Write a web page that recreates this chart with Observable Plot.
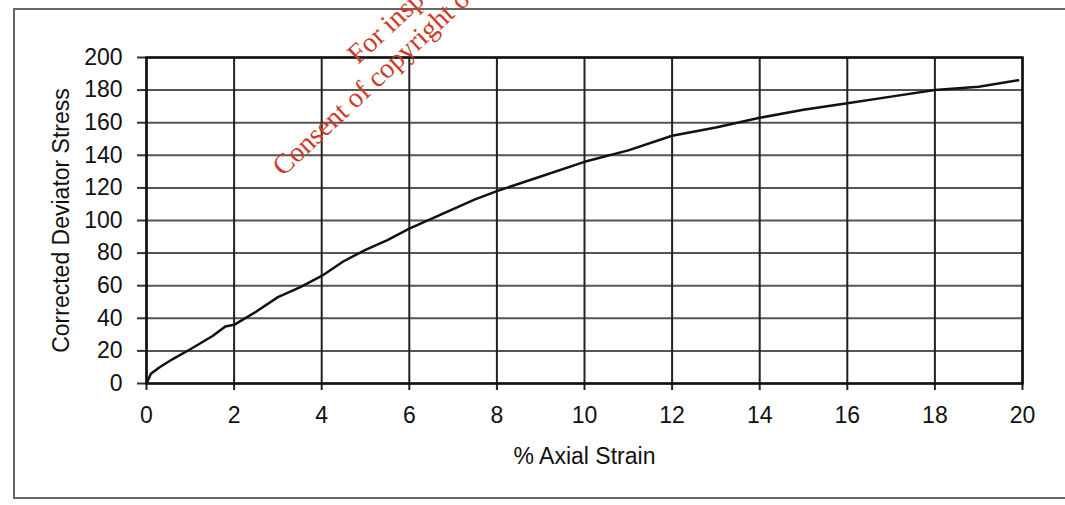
<!DOCTYPE html>
<html>
<head>
<meta charset="utf-8">
<script src="https://cdn.jsdelivr.net/npm/d3@7"></script>
<script src="https://cdn.jsdelivr.net/npm/@observablehq/plot@0.6"></script>
<style>
  html, body { margin: 0; padding: 0; background: #fff; width: 1065px; height: 505px; overflow: hidden; }
  #wrap { position: relative; width: 1065px; height: 505px; overflow: hidden; }
  #outer { position: absolute; left: 13px; top: 8px; width: 1080px; height: 491px; border: 2px solid #666; box-sizing: border-box; }
  #chart { position: absolute; left: 0; top: 0; }
  #chart svg text { font-size: 23px !important; font-family: "Liberation Sans", Arial, sans-serif; fill: #111; }
  #wm { position: absolute; left: 0; top: 0; width: 1065px; height: 505px; pointer-events: none; }
  #wm div { position: absolute; font-family: "Liberation Serif", "DejaVu Serif", serif; font-size: 28px; line-height: 1; color: #cc3a2a; white-space: nowrap; }
</style>
</head>
<body>
<div id="wrap">
  <div id="outer"></div>
  <div id="chart"></div>
  <div id="wm"></div>
</div>
<script>
// Data
const strain = [0, 0.1, 0.3, 0.6, 1, 1.5, 1.8, 2, 2.5, 3, 3.5, 4, 4.5, 5, 5.5, 6, 6.5, 7, 7.5, 8, 9, 10, 11, 12, 13, 14, 15, 16, 17, 18, 19, 19.9];
const stress = [0, 6, 10, 15, 21, 29, 35, 36, 44, 53, 59, 66, 75, 82, 88, 95, 101, 107, 113, 118, 127, 136, 143, 152, 157, 163, 168, 172, 176, 180, 182, 186];
const xTicks = [0, 2, 4, 6, 8, 10, 12, 14, 16, 18, 20];
const yTicks = [0, 20, 40, 60, 80, 100, 120, 140, 160, 180, 200];
const xLabel = "% Axial Strain";
const yLabel = "Corrected Deviator Stress";
const watermark = ["For inspection purposes only.", "Consent of copyright owner required for any other use."];

const data = strain.map((s, i) => ({strain: s, stress: stress[i]}));

const chart = Plot.plot({
  width: 1065,
  height: 505,
  marginLeft: 146,
  marginRight: 43,
  marginTop: 57,
  marginBottom: 122,
  style: {fontFamily: "'Liberation Sans', Arial, sans-serif", fontSize: "23px", color: "#111", background: "transparent"},
  x: {domain: [0, 20]},
  y: {domain: [0, 200]},
  marks: [
    Plot.gridY(yTicks, {stroke: "#555", strokeOpacity: 1, strokeWidth: 2}),
    Plot.gridX(xTicks, {stroke: "#222", strokeOpacity: 1, strokeWidth: 2}),
    Plot.axisX(xTicks, {tickSize: 7, tickPadding: 16, stroke: "#222", strokeWidth: 2,
      label: xLabel, labelAnchor: "center", labelArrow: "none", labelOffset: 80}),
    Plot.axisY(yTicks, {tickSize: 9, tickPadding: 15, stroke: "#333", strokeWidth: 2,
      label: yLabel, labelAnchor: "center", labelArrow: "none", labelOffset: 94}),
    Plot.frame({stroke: "#111", strokeWidth: 2.5}),
    Plot.line(data, {x: "strain", y: "stress", stroke: "#111", strokeWidth: 2.5, curve: "linear"})
  ]
});
document.getElementById("chart").appendChild(chart);

// watermark
const wm = document.getElementById("wm");
const ang = -43;
const positions = [{x: 358, y: 65}, {x: 283, y: 177}];
watermark.forEach((t, i) => {
  const d = document.createElement("div");
  d.textContent = t;
  d.style.left = positions[i].x + "px";
  d.style.top = (positions[i].y - 23) + "px";
  d.style.transformOrigin = "0 23px";
  d.style.transform = `rotate(${ang}deg)`;
  wm.appendChild(d);
});
</script>
</body>
</html>
